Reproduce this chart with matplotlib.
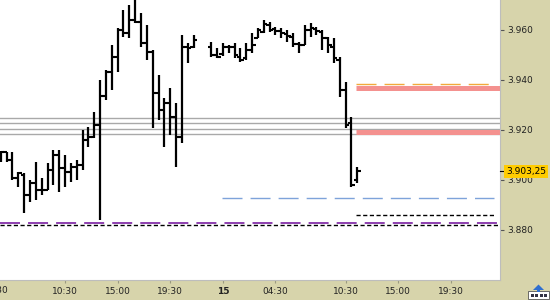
import matplotlib
matplotlib.use('Agg')
import matplotlib.pyplot as plt
import matplotlib.patches as mpatches
import numpy as np
import pandas as pd

plt.rcParams['lines.scale_dashes'] = False
plt.rcParams['font.family'] = ['DejaVu Sans']

# ---------------- data ----------------
base_day = pd.Timestamp('2024-01-14 00:00')
session1 = pd.date_range('2024-01-14 05:00', '2024-01-14 21:30', freq='30min')
session2 = pd.date_range('2024-01-14 23:00', '2024-01-15 11:30', freq='30min')

opens = [3910.6, 3911.0, 3907.8, 3900.6, 3901.8, 3893.8, 3898.6, 3895.8, 3895.8, 3903.8,
         3909.8, 3904.6, 3903.0, 3905.0, 3905.8, 3915.8, 3917.0, 3921.8,
         3933.4, 3943.0, 3949.0, 3959.8, 3958.6, 3963.8, 3963.0, 3954.6, 3951.0, 3934.6,
         3927.8, 3930.6, 3925.0, 3917.0, 3953.0, 3953.0,
         3953.0, 3949.8, 3950.2, 3953.0, 3953.0, 3949.0, 3948.6, 3951.8, 3956.6, 3959.0,
         3961.8, 3960.2, 3959.4, 3958.2, 3957.0, 3954.2, 3953.8, 3959.8, 3960.2, 3959.0,
         3956.6, 3953.0, 3947.8, 3935.8, 3922.6, 3899.8]
highs = [3911.4, 3911.0, 3911.0, 3903.0, 3902.6, 3899.8, 3907.0, 3900.6, 3906.6, 3911.8,
         3911.8, 3909.8, 3906.6, 3907.8, 3919.8, 3921.0, 3927.0, 3939.8,
         3943.8, 3953.8, 3960.6, 3967.8, 3969.8, 3972.6, 3966.6, 3961.8, 3951.8, 3941.8,
         3932.6, 3936.6, 3930.6, 3957.8, 3954.6, 3957.8,
         3955.0, 3952.6, 3954.6, 3953.8, 3954.6, 3952.6, 3954.6, 3958.6, 3960.6, 3963.8,
         3963.0, 3961.0, 3960.6, 3959.8, 3958.6, 3955.0, 3961.8, 3962.6, 3961.0, 3959.8,
         3957.0, 3956.6, 3949.0, 3939.0, 3925.0, 3905.0]
lows = [3907.0, 3907.0, 3899.8, 3897.0, 3886.6, 3891.0, 3891.8, 3893.8, 3895.8, 3897.8,
        3895.0, 3897.0, 3899.0, 3899.8, 3903.8, 3913.0, 3916.6, 3883.8,
        3931.8, 3935.8, 3943.0, 3957.0, 3956.6, 3962.6, 3953.0, 3947.8, 3920.6, 3923.8,
        3913.0, 3917.8, 3905.0, 3914.6, 3946.6, 3952.6,
        3949.0, 3948.6, 3949.4, 3950.6, 3948.6, 3947.0, 3947.8, 3950.6, 3956.6, 3958.6,
        3959.0, 3957.8, 3956.6, 3955.0, 3953.0, 3950.6, 3953.8, 3957.0, 3957.8, 3951.8,
        3950.6, 3946.6, 3933.0, 3920.6, 3897.0, 3898.6]
closes = [3911.0, 3907.8, 3900.6, 3902.6, 3893.8, 3898.6, 3895.8, 3895.8, 3903.8, 3909.8,
          3904.6, 3903.0, 3905.0, 3905.8, 3915.8, 3917.0, 3921.8, 3933.4,
          3943.0, 3949.0, 3959.8, 3958.6, 3963.8, 3963.0, 3954.6, 3951.0, 3934.6, 3927.8,
          3930.6, 3925.0, 3917.0, 3953.0, 3952.6, 3955.8,
          3949.8, 3949.0, 3953.0, 3953.0, 3949.8, 3947.8, 3951.8, 3953.8, 3959.8, 3962.2,
          3959.8, 3959.4, 3958.6, 3957.4, 3954.2, 3953.8, 3959.8, 3960.6, 3959.4, 3956.6,
          3953.8, 3948.6, 3935.8, 3921.8, 3897.8, 3903.25]

grid_levels = [3924.5, 3922.5, 3920.1, 3918.1]
zone_levels = [3936.5, 3919.1]
orange_level = 3938.2
blue_level = 3892.5
black_short_level = 3885.7
purple_level = 3882.7
black_long_level = 3881.8
last_price = 3903.25

y_ticks = [3880, 3900, 3920, 3940, 3960]
y_tick_labels = ['3.880', '3.900', '3.920', '3.940', '3.960']
x_tick_hours = [10.5, 15.0, 19.5, 24.0, 28.5, 34.5, 39.0, 43.5]
x_tick_labels = ['10:30', '15:00', '19:30', '15', '04:30', '10:30', '15:00', '19:30']
left_cut_hour, left_cut_label = 4.5, '04:30'

# ---------------- figure ----------------
BEIGE = '#D7D4AB'
fig = plt.figure(figsize=(5.5, 3.0), dpi=100, facecolor=BEIGE)
ax = fig.add_axes([0, 20 / 300, 500 / 550, 280 / 300])
ax.set_facecolor('white')

times = session1.append(session2)
xh = np.asarray((times - base_day).total_seconds() / 3600.0)
o = np.array(opens); h = np.array(highs); l = np.array(lows); c = np.array(closes)

x0, x1 = 4.936, 47.71
ax.set_xlim(x0, x1)
ax.set_ylim(3859.8, 3971.8)

# horizontal levels
for lv in grid_levels:
    ax.axhline(lv, color='#A9A9A9', lw=1.0, zorder=1)
zone_start = 35.4
for lv in zone_levels:
    ax.hlines(lv, zone_start, x1, color='#F4918F', lw=3.6, zorder=2)
ax.hlines(orange_level, zone_start, 47.0, color='#F2A93B', lw=1.0,
          linestyles=[(0, (14.4, 5.8))], zorder=2)
ax.hlines(blue_level, 23.9, 47.2, color='#7EA3DA', lw=1.0,
          linestyles=[(0, (14.4, 5.8))], zorder=2)
ax.hlines(black_short_level, zone_start, 47.3, color='black', lw=1.0,
          linestyles=[(0, (3.0, 1.8))], zorder=2)
ax.hlines(purple_level, x0, x1, color='#7A1FA2', lw=1.2,
          linestyles=[(0, (14.4, 5.8))], zorder=2)
ax.hlines(black_long_level, x0, x1, color='black', lw=1.0,
          linestyles=[(0, (3.0, 1.8))], zorder=2)

# OHLC bars
d = 0.3
ax.vlines(xh, l, h, color='black', lw=1.6, zorder=3, capstyle='butt')
ax.hlines(o, xh - d, xh, color='black', lw=1.5, zorder=3)
ax.hlines(c, xh, xh + d, color='black', lw=1.5, zorder=3)

# axes styling
for s in ['top', 'left']:
    ax.spines[s].set_visible(False)
for s in ['right', 'bottom']:
    ax.spines[s].set_color('#BDBDBD')
    ax.spines[s].set_linewidth(0.8)

ax.yaxis.tick_right()
ax.set_yticks(y_ticks)
ax.set_yticklabels(y_tick_labels)
ax.tick_params(axis='y', direction='out', length=3, width=0.8, color='#555555',
               labelsize=6.5, pad=2, labelcolor='#222222')
ax.set_xticks(x_tick_hours)
ax.set_xticklabels(x_tick_labels)
ax.tick_params(axis='x', direction='out', length=2, width=0.8, color='#9A9A80',
               labelsize=6.5, pad=3, labelcolor='#222222')
for lab in ax.get_xticklabels():
    if lab.get_text() == '15':
        lab.set_fontweight('bold')

ax.text(left_cut_hour, -0.036, left_cut_label, transform=ax.get_xaxis_transform(),
        ha='center', va='center', fontsize=6.5, color='#222222', clip_on=False)

# last price box
ax.plot([x1, x1 + 0.35], [last_price, last_price], color='black', lw=0.8,
        clip_on=False, zorder=5)
ax.text(1.012, last_price, '3.903,25'.replace(',', ','), transform=ax.get_yaxis_transform(),
        ha='left', va='center', fontsize=6.5, color='black', clip_on=False, zorder=6,
        bbox=dict(boxstyle='square,pad=0.18', fc='#FFCC00', ec='none'))

# small corner icon
W, H = 550.0, 300.0
fig.patches.append(mpatches.Rectangle((528 / W, 1 - 299 / H), 21 / W, 8 / H,
                                      transform=fig.transFigure, fc='white',
                                      ec='#555555', lw=0.6))
for i in range(4):
    fig.patches.append(mpatches.Rectangle(((530.5 + i * 4.6) / W, 1 - 297 / H), 3 / W, 3 / H,
                                          transform=fig.transFigure, fc='#333344', ec='none'))
fig.patches.append(mpatches.Polygon([[(533) / W, 1 - 290 / H], [(538.5) / W, 1 - 284.5 / H],
                                     [(544) / W, 1 - 290 / H]],
                                    transform=fig.transFigure, fc='#2F6FD0', ec='none'))
fig.patches.append(mpatches.Rectangle((536.8 / W, 1 - 292 / H), 3.4 / W, 2.5 / H,
                                      transform=fig.transFigure, fc='#2F6FD0', ec='none'))

fig.savefig('out.png', dpi=100, facecolor=BEIGE)
